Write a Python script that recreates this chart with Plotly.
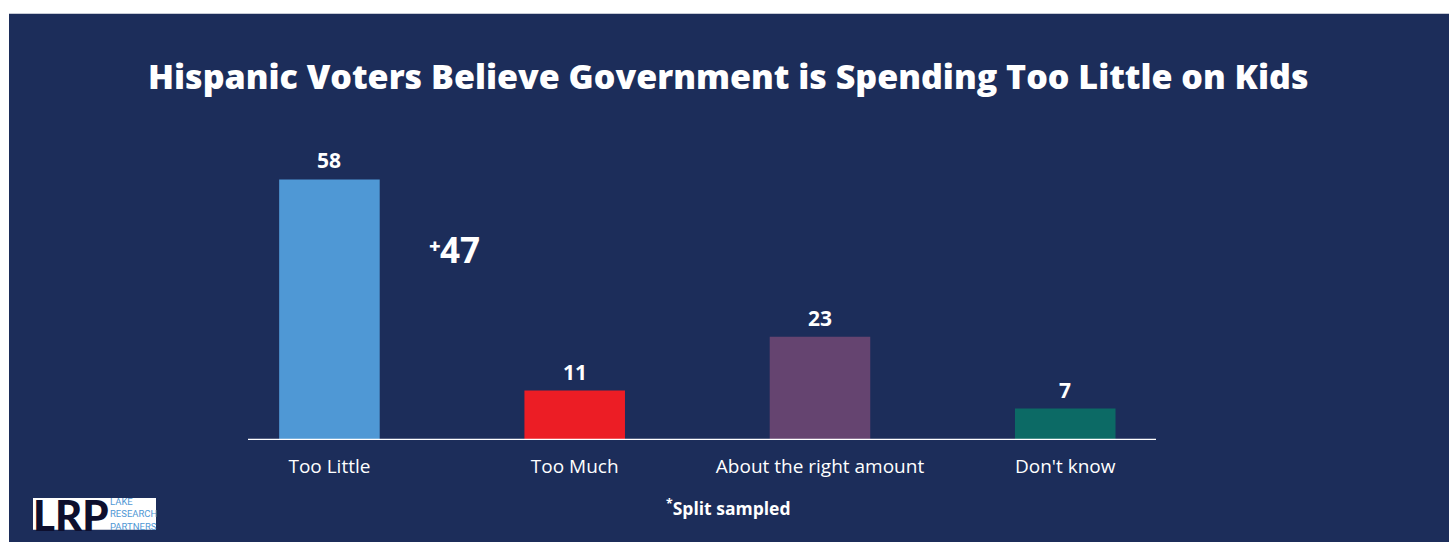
import plotly.graph_objects as go

categories = ["Too Little", "Too Much", "About the right amount", "Don't know"]
values = [58, 11, 23, 7]
bar_colors = ["#4f98d5", "#ec1d25", "#654470", "#0c6a65"]
title_text = "Hispanic Voters Believe Government is Spending Too Little on Kids"
margin_sign = "+"
margin_value = "47"
footnote = "<sup>*</sup>Split sampled"

BG = "#1c2d5a"
FONT = "Open Sans"

W, H = 1455, 542
L, R_PX = 248, 1156          # plot area x in pixels
T_PX, B_PX = 147.5, 440      # plot area y in pixels
pw, ph = R_PX - L, B_PX - T_PX

def px_x(x):
    return (x - L) / pw

def px_y(y):
    return (B_PX - y) / ph

xs = list(range(len(categories)))

fig = go.Figure()
fig.add_trace(go.Bar(
    x=xs, y=values, marker=dict(color=bar_colors, line=dict(width=0)),
    width=0.41, hoverinfo="skip",
))

def ann(x, y, text, size, weight=700, color="white", xanchor="center", family=FONT, **kw):
    return dict(x=px_x(x), y=px_y(y), xref="paper", yref="paper", text=text,
                showarrow=False, xanchor=xanchor, yanchor="middle",
                font=dict(family=family, size=size, color=color, weight=weight), **kw)

annotations = []
for x, v in zip(xs, values):
    annotations.append(dict(x=x, y=v, text=str(v), showarrow=False, xref="x", yref="y",
                            xanchor="center", yanchor="bottom", yshift=3,
                            font=dict(family=FONT, size=21, color="white", weight=700)))
annotations.append(ann(728, 75, title_text, 34, weight=800))
annotations.append(ann(427, 245, margin_sign, 20, weight=800, xanchor="left"))
annotations.append(ann(438, 249, margin_value, 35, xanchor="left"))
annotations.append(ann(728, 508, footnote, 17.5))
# logo text
annotations.append(ann(31, 515, "LRP", 42, weight=900, color="#0d0f2e", xanchor="left", family="Lato"))
annotations.append(ann(108, 514, "LAKE<br>RESEARCH<br>PARTNERS", 9.5, weight=400,
                       color="#4f98d5", xanchor="left", align="left", family="Roboto"))

shapes = [
    dict(type="rect", xref="paper", yref="paper", layer="below",
         x0=px_x(9), x1=px_x(1449), y0=px_y(545), y1=px_y(13),
         fillcolor=BG, line=dict(width=0)),
    dict(type="rect", xref="paper", yref="paper", layer="below",
         x0=px_x(33), x1=px_x(156), y0=px_y(530), y1=px_y(498),
         fillcolor="white", line=dict(width=0)),
    dict(type="line", xref="paper", yref="y", x0=0, x1=1, y0=0, y1=0,
         line=dict(color="white", width=2.5)),
]

fig.update_layout(
    width=W, height=H,
    margin=dict(l=L, r=W - R_PX, t=T_PX, b=H - B_PX, pad=0),
    paper_bgcolor="white", plot_bgcolor="rgba(0,0,0,0)",
    showlegend=False,
    xaxis=dict(range=[-0.332, 3.37], tickvals=xs, ticktext=categories,
               showgrid=False, zeroline=False, showline=False,
               tickfont=dict(family=FONT, size=19, color="white"), ticks="", ticklen=0,
               ticklabelstandoff=13),
    yaxis=dict(range=[0, 65], visible=False, showgrid=False, zeroline=False),
    annotations=annotations, shapes=shapes,
)

fig.write_html("out.html", config={"displayModeBar": False},
               post_script="document.body.style.margin='0';document.body.style.padding='0';")
